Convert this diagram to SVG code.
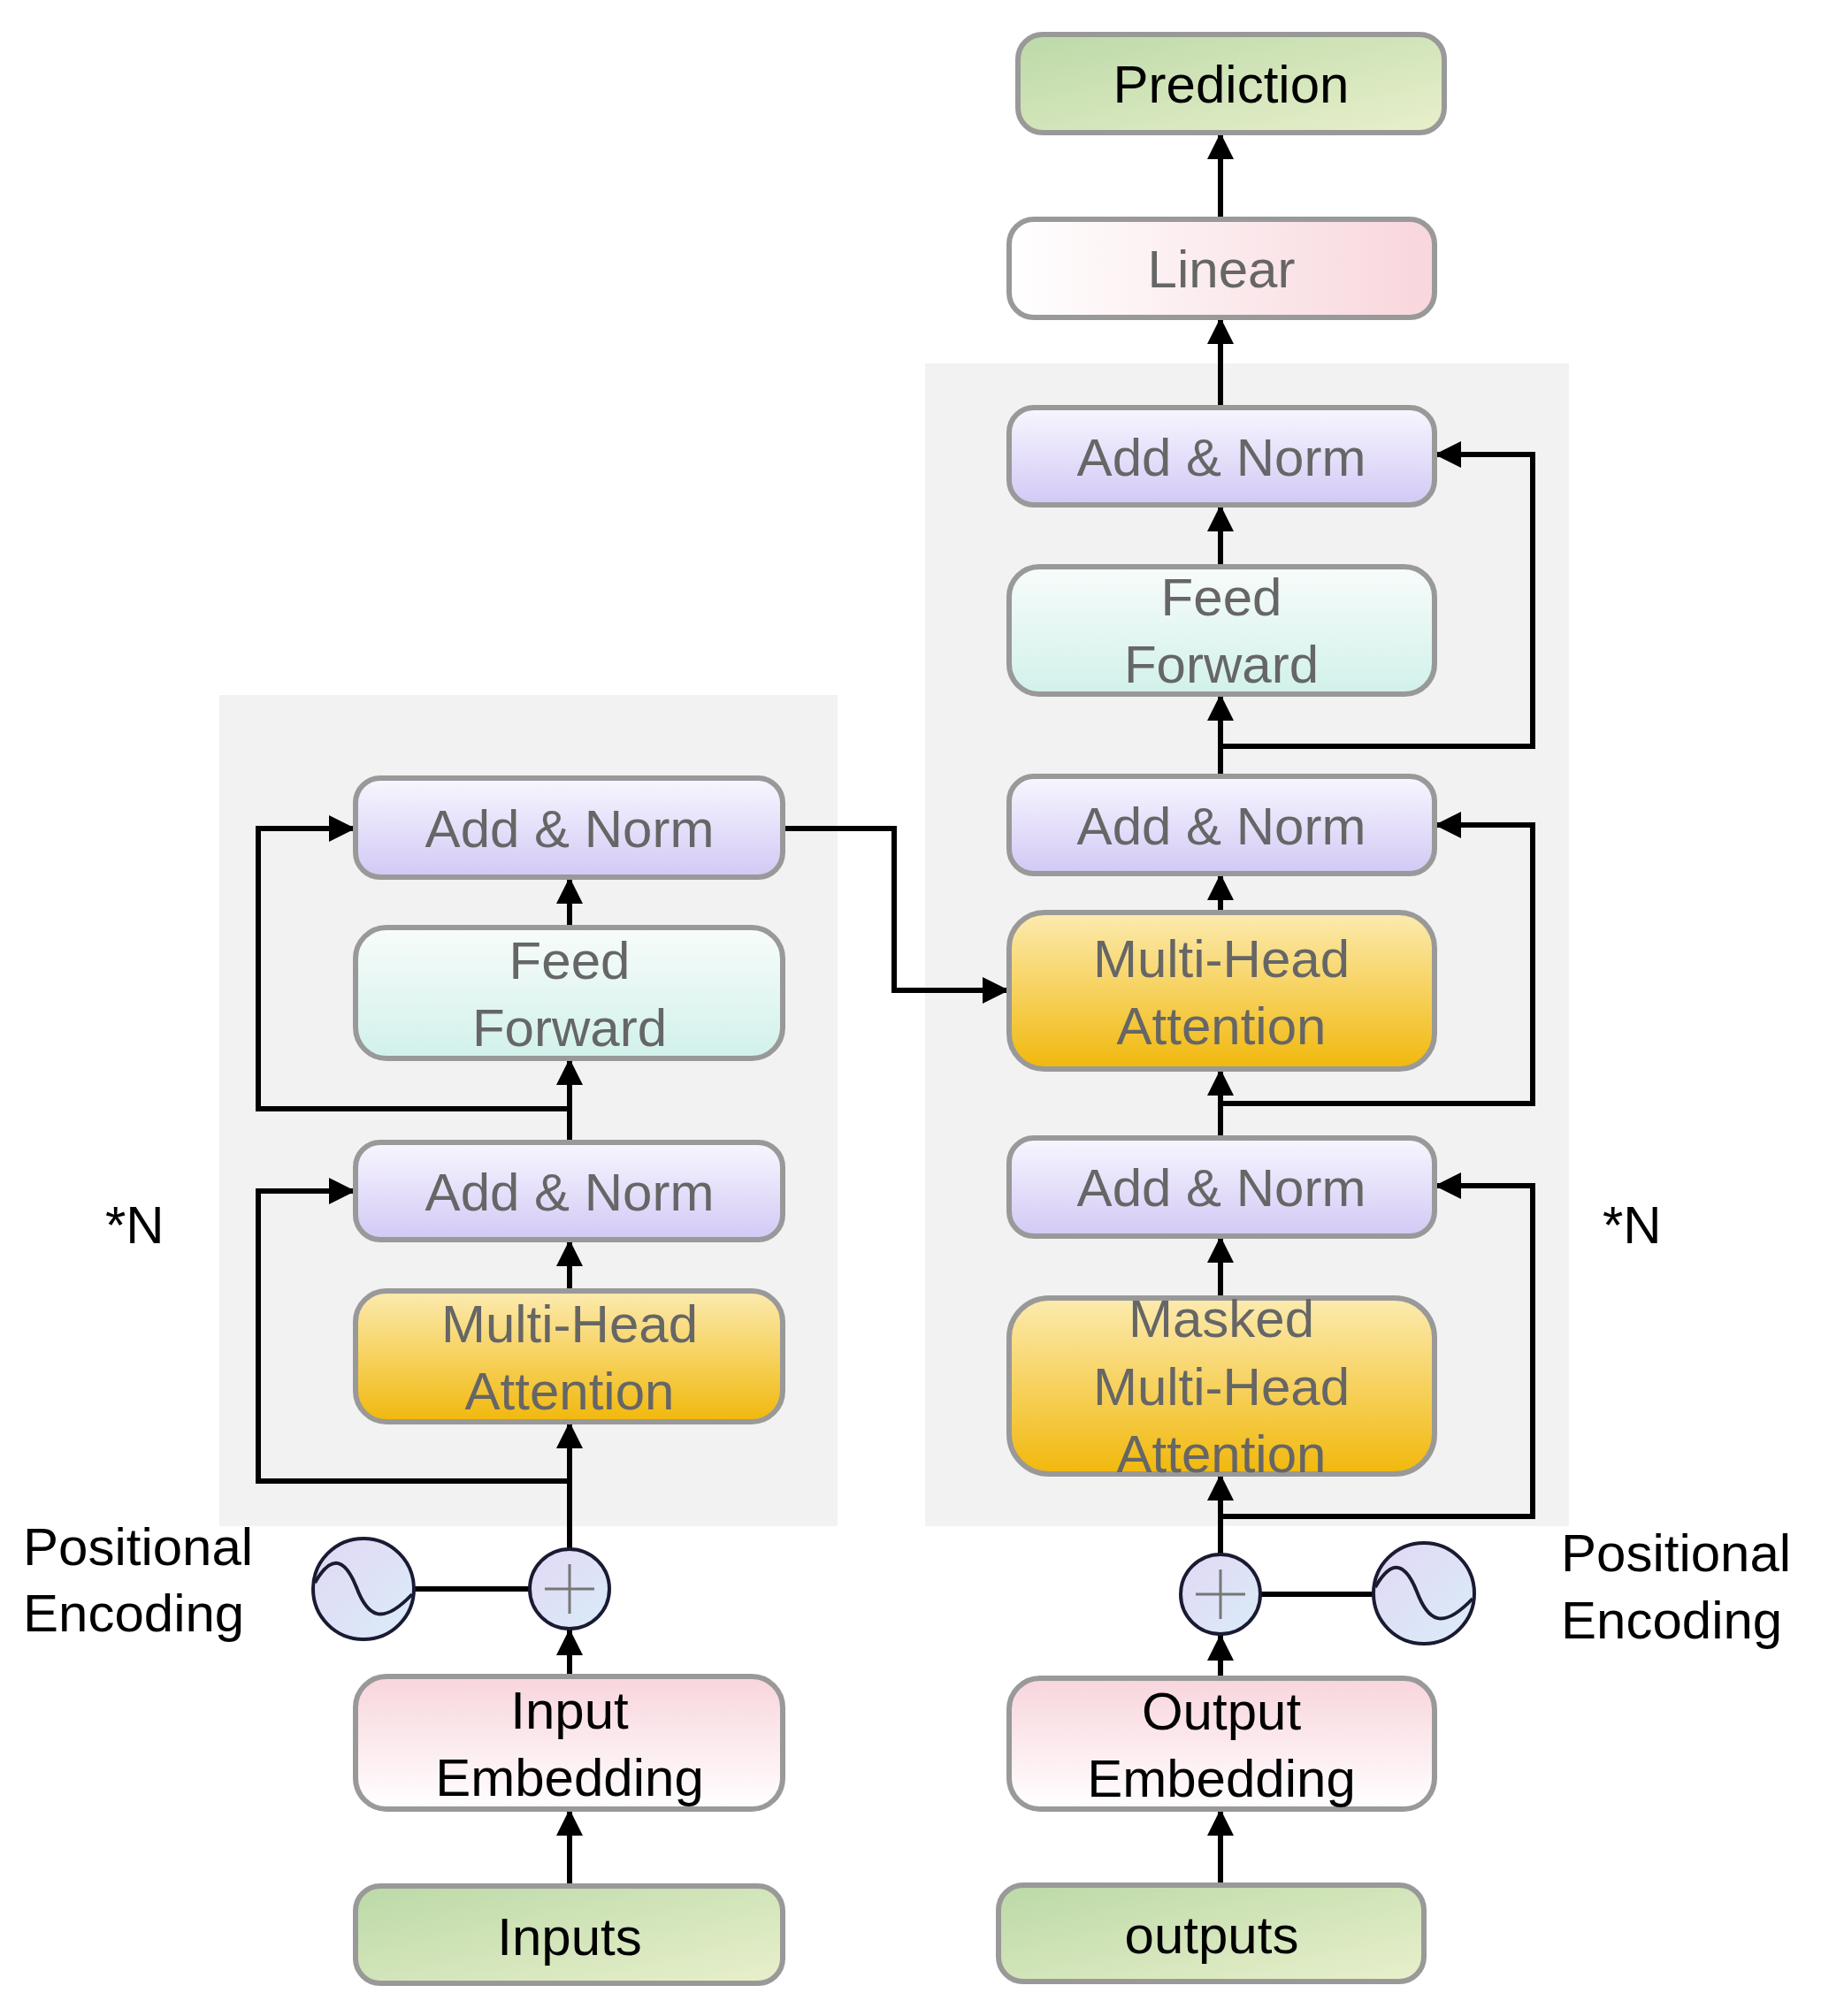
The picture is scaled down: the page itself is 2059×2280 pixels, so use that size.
<svg xmlns="http://www.w3.org/2000/svg" width="2059" height="2280" viewBox="0 0 2059 2280">
<defs>
<linearGradient id="gGreen" x1="0" y1="0" x2="1" y2="1"><stop offset="0" stop-color="#bcd9a7"/><stop offset="1" stop-color="#e8f0cc"/></linearGradient>
<linearGradient id="gLin" x1="0" y1="0" x2="1" y2="0"><stop offset="0" stop-color="#ffffff"/><stop offset="1" stop-color="#f8d6dc"/></linearGradient>
<linearGradient id="gPur" x1="0" y1="0" x2="0" y2="1"><stop offset="0" stop-color="#f8f6ff"/><stop offset="1" stop-color="#d2c9f5"/></linearGradient>
<linearGradient id="gTeal" x1="0" y1="0" x2="0" y2="1"><stop offset="0" stop-color="#f8fcfb"/><stop offset="1" stop-color="#d1f1ea"/></linearGradient>
<linearGradient id="gOr" x1="0" y1="0" x2="0" y2="1"><stop offset="0" stop-color="#fcebb0"/><stop offset="1" stop-color="#f1b80c"/></linearGradient>
<linearGradient id="gEmb" x1="0" y1="0" x2="0" y2="1"><stop offset="0" stop-color="#f8d5dc"/><stop offset="1" stop-color="#ffffff"/></linearGradient>
<linearGradient id="gCirc" x1="0" y1="0" x2="1" y2="1"><stop offset="0" stop-color="#e2d8f5"/><stop offset="1" stop-color="#d9ecf8"/></linearGradient>
<marker id="ah" viewBox="0 0 10 10" refX="10" refY="5" markerWidth="5" markerHeight="5" orient="auto" markerUnits="strokeWidth"><path d="M0,0 L10,5 L0,10 z" fill="#000"/></marker>
</defs>
<style>
.box{stroke:#999;stroke-width:6}
.t{font-family:"Liberation Sans",Arial,sans-serif;font-size:60px;fill:#666;text-anchor:middle}
.k{fill:#000}
.lbl{font-family:"Liberation Sans",Arial,sans-serif;font-size:60px;fill:#000}
.c{fill:none;stroke:#000;stroke-width:6}
</style>
<rect x="248" y="786" width="699" height="940" fill="#f2f2f2"/>
<rect x="1046" y="411" width="728" height="1315" fill="#f2f2f2"/>
<g id="connectors">
<path class="c" d="M1380,248 V150" marker-end="url(#ah)"/>
<path class="c" d="M1380,461 V359" marker-end="url(#ah)"/>
<path class="c" d="M1380,641 V571" marker-end="url(#ah)"/>
<path class="c" d="M1380,878 V785" marker-end="url(#ah)"/>
<path class="c" d="M1380,1032 V988" marker-end="url(#ah)"/>
<path class="c" d="M1380,1287 V1209" marker-end="url(#ah)"/>
<path class="c" d="M1380,1468 V1398" marker-end="url(#ah)"/>
<path class="c" d="M1380,1758 V1667" marker-end="url(#ah)"/>
<path class="c" d="M1380,1898 V1848" marker-end="url(#ah)"/>
<path class="c" d="M1380,2132 V2046" marker-end="url(#ah)"/>
<path class="c" d="M1380,844 H1733 V514 H1622" marker-end="url(#ah)"/>
<path class="c" d="M1380,1248 H1733 V933 H1622" marker-end="url(#ah)"/>
<path class="c" d="M1380,1715 H1733 V1341 H1622" marker-end="url(#ah)"/>
<path class="c" d="M1425,1803 H1552"/>
<path class="c" d="M644,880 V992" style="display:none"/>
<path class="c" d="M644,1049 V992" marker-end="url(#ah)"/>
<path class="c" d="M644,1292 V1197" marker-end="url(#ah)"/>
<path class="c" d="M644,1460 V1402" marker-end="url(#ah)"/>
<path class="c" d="M644,1752 V1608" marker-end="url(#ah)"/>
<path class="c" d="M644,1896 V1842" marker-end="url(#ah)"/>
<path class="c" d="M644,2133 V2046" marker-end="url(#ah)"/>
<path class="c" d="M644,1675 H292 V1347 H402" marker-end="url(#ah)"/>
<path class="c" d="M644,1254 H292 V937 H402" marker-end="url(#ah)"/>
<path class="c" d="M885,937 H1011 V1120 H1141" marker-end="url(#ah)"/>
<path class="c" d="M469,1797 H599"/>
</g>
<g id="prediction"><rect class="box" x="1151" y="39" width="482" height="111" rx="28" fill="url(#gGreen)"/><text class="t k" x="1392" y="116">Prediction</text></g>
<g id="linear"><rect class="box" x="1141" y="248" width="481" height="111" rx="28" fill="url(#gLin)"/><text class="t" x="1381" y="325">Linear</text></g>
<g id="dec-addnorm1"><rect class="box" x="1141" y="461" width="481" height="110" rx="28" fill="url(#gPur)"/><text class="t" x="1381" y="538">Add &amp; Norm</text></g>
<g id="dec-ff"><rect class="box" x="1141" y="641" width="481" height="144" rx="34" fill="url(#gTeal)"/><text class="t" x="1381" y="696">Feed</text><text class="t" x="1381" y="772">Forward</text></g>
<g id="dec-addnorm2"><rect class="box" x="1141" y="878" width="481" height="110" rx="28" fill="url(#gPur)"/><text class="t" x="1381" y="955">Add &amp; Norm</text></g>
<g id="dec-mha"><rect class="box" x="1141" y="1032" width="481" height="177" rx="40" fill="url(#gOr)"/><text class="t" x="1381" y="1105">Multi-Head</text><text class="t" x="1381" y="1181">Attention</text></g>
<g id="dec-addnorm3"><rect class="box" x="1141" y="1287" width="481" height="111" rx="28" fill="url(#gPur)"/><text class="t" x="1381" y="1364">Add &amp; Norm</text></g>
<g id="dec-masked"><rect class="box" x="1141" y="1468" width="481" height="199" rx="45" fill="url(#gOr)"/><text class="t" x="1381" y="1512">Masked</text><text class="t" x="1381" y="1589">Multi-Head</text><text class="t" x="1381" y="1665">Attention</text></g>
<g id="dec-plus"><circle cx="1380" cy="1803" r="45" fill="url(#gCirc)" stroke="#1a1a33" stroke-width="4"/><path d="M1352,1803 H1408 M1380,1775 V1831" stroke="#777" stroke-width="3"/></g>
<g id="dec-sine"><circle cx="1610" cy="1802" r="57" fill="url(#gCirc)" stroke="#1a1a33" stroke-width="4"/><path d="M1555,1795 C1575,1760 1590,1770 1602,1800 C1614,1832 1630,1845 1665,1808" fill="none" stroke="#1a1a33" stroke-width="4"/></g>
<g id="output-embedding"><rect class="box" x="1141" y="1898" width="481" height="148" rx="35" fill="url(#gEmb)"/><text class="t k" x="1381" y="1956">Output</text><text class="t k" x="1381" y="2032">Embedding</text></g>
<g id="outputs"><rect class="box" x="1129" y="2132" width="481" height="109" rx="28" fill="url(#gGreen)"/><text class="t k" x="1370" y="2209">outputs</text></g>
<g id="enc-addnorm1"><rect class="box" x="402" y="880" width="483" height="112" rx="28" fill="url(#gPur)"/><text class="t" x="644" y="958">Add &amp; Norm</text></g>
<g id="enc-ff"><rect class="box" x="402" y="1049" width="483" height="148" rx="35" fill="url(#gTeal)"/><text class="t" x="644" y="1107">Feed</text><text class="t" x="644" y="1183">Forward</text></g>
<g id="enc-addnorm2"><rect class="box" x="402" y="1292" width="483" height="110" rx="28" fill="url(#gPur)"/><text class="t" x="644" y="1369">Add &amp; Norm</text></g>
<g id="enc-mha"><rect class="box" x="402" y="1460" width="483" height="148" rx="35" fill="url(#gOr)"/><text class="t" x="644" y="1518">Multi-Head</text><text class="t" x="644" y="1594">Attention</text></g>
<g id="enc-plus"><circle cx="644" cy="1797" r="45" fill="url(#gCirc)" stroke="#1a1a33" stroke-width="4"/><path d="M616,1797 H672 M644,1769 V1825" stroke="#777" stroke-width="3"/></g>
<g id="enc-sine"><circle cx="411" cy="1797" r="57" fill="url(#gCirc)" stroke="#1a1a33" stroke-width="4"/><path d="M356,1790 C376,1755 391,1765 403,1795 C415,1827 431,1840 466,1803" fill="none" stroke="#1a1a33" stroke-width="4"/></g>
<g id="input-embedding"><rect class="box" x="402" y="1896" width="483" height="150" rx="35" fill="url(#gEmb)"/><text class="t k" x="644" y="1955">Input</text><text class="t k" x="644" y="2031">Embedding</text></g>
<g id="inputs"><rect class="box" x="402" y="2133" width="483" height="110" rx="28" fill="url(#gGreen)"/><text class="t k" x="644" y="2211">Inputs</text></g>
<text class="lbl" x="119" y="1406">*N</text>
<text class="lbl" x="1812" y="1406">*N</text>
<text class="lbl" x="26" y="1770">Positional</text>
<text class="lbl" x="26" y="1845">Encoding</text>
<text class="lbl" x="1765" y="1777">Positional</text>
<text class="lbl" x="1765" y="1853">Encoding</text>
</svg>
